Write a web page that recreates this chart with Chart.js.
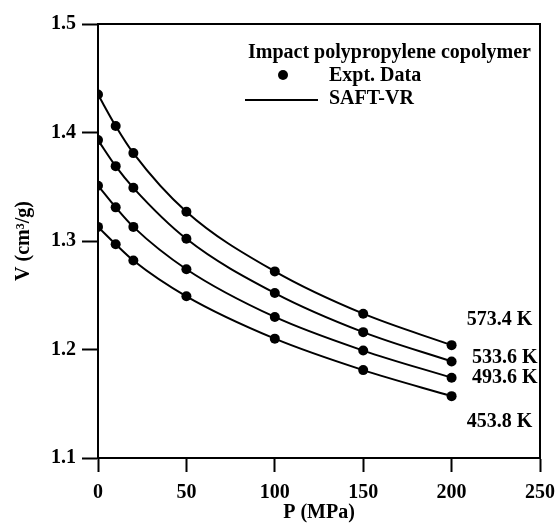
<!DOCTYPE html>
<html><head><meta charset="utf-8">
<script src="https://cdn.jsdelivr.net/npm/chart.js@4/dist/chart.umd.min.js"></script>
<style>html,body{margin:0;padding:0;background:#fff}#wrap{width:559px;height:530px}</style>
</head><body><div id="wrap"><canvas id="c" width="559" height="530"></canvas></div>
<script>
const pressure = [0, 10, 20, 50, 100, 150, 200];
const v573 = [1.435, 1.406, 1.381, 1.327, 1.272, 1.233, 1.204];
const v533 = [1.393, 1.369, 1.349, 1.302, 1.252, 1.216, 1.189];
const v493 = [1.351, 1.331, 1.313, 1.274, 1.230, 1.199, 1.174];
const v453 = [1.313, 1.297, 1.282, 1.249, 1.210, 1.181, 1.157];
const tempLabels = ['573.4 K', '533.6 K', '493.6 K', '453.8 K'];
const xTicks = [0, 50, 100, 150, 200, 250];
const yTicks = [1.1, 1.2, 1.3, 1.4, 1.5];
const legendTitle = 'Impact polypropylene copolymer';
const legendItems = ['Expt. Data', 'SAFT-VR'];

const FONT = "'Liberation Serif', 'Times New Roman', serif";
const series = [v573, v533, v493, v453];

const datasets = series.map(s => ({
  data: pressure.map((p, i) => ({x: p, y: s[i]})),
  borderColor: '#000', backgroundColor: '#000',
  borderWidth: 2, pointRadius: 5, pointHoverRadius: 5,
  pointBackgroundColor: '#000', pointBorderWidth: 0,
  showLine: true, cubicInterpolationMode: 'monotone', fill: false
}));

const deco = {
  id: 'deco',
  afterDraw(chart, args, opts) {
    const ctx = chart.ctx, a = chart.chartArea;
    const xs = chart.scales.x, ys = chart.scales.y;
    ctx.save();
    ctx.strokeStyle = '#000'; ctx.lineWidth = 2;
    ctx.beginPath();
    ctx.moveTo(a.left, a.top); ctx.lineTo(a.right, a.top); ctx.lineTo(a.right, a.bottom);
    ctx.stroke();
    ctx.fillStyle = '#000';
    ctx.font = 'bold 20px ' + FONT;
    ctx.textBaseline = 'middle';
    ctx.textAlign = 'left';
    // legend
    ctx.fillText(legendTitle, a.left + 150, a.top + 29);
    ctx.beginPath(); ctx.arc(a.left + 185, a.top + 51, 5, 0, Math.PI * 2); ctx.fill();
    ctx.fillText(legendItems[0], a.left + 231, a.top + 52);
    ctx.beginPath(); ctx.moveTo(a.left + 147, a.top + 76); ctx.lineTo(a.left + 220, a.top + 76); ctx.stroke();
    ctx.fillText(legendItems[1], a.left + 231, a.top + 75);
    // temperature labels
    opts.labelPos.forEach((p, i) => {
      ctx.fillText(tempLabels[i], xs.getPixelForValue(p[0]), ys.getPixelForValue(p[1]));
    });
    ctx.restore();
  }
};

new Chart(document.getElementById('c'), {
  type: 'scatter',
  data: {datasets},
  plugins: [deco],
  options: {
    responsive: false, animation: false, devicePixelRatio: 1,
    layout: {padding: {top: 24, right: 19, left: 0, bottom: 0}},
    plugins: {
      legend: {display: false}, tooltip: {enabled: false},
      deco: {labelPos: [[208.5, 1.2272], [211.5, 1.1922], [211.5, 1.1737], [208.5, 1.1332]]}
    },
    scales: {
      x: {
        type: 'linear', min: 0, max: 250,
        afterBuildTicks: s => { s.ticks = xTicks.map(v => ({value: v})); },
        afterFit: s => { s.height = 72; s.paddingLeft = 0; s.paddingRight = 0; },
        grid: {drawOnChartArea: false, tickLength: 14, tickWidth: 2, tickColor: '#000'},
        border: {color: '#000', width: 2},
        ticks: {color: '#000', font: {family: FONT, size: 20, weight: 'bold'}, padding: 9, maxRotation: 0},
        title: {display: true, text: 'P (MPa)', color: '#000', font: {family: FONT, size: 20, weight: 'bold'}, padding: {top: 0, bottom: 5}}
      },
      y: {
        type: 'linear', min: 1.1, max: 1.5,
        afterBuildTicks: s => { s.ticks = yTicks.map(v => ({value: v})); },
        afterFit: s => { s.width = 98; s.paddingTop = 0; s.paddingBottom = 0; },
        grid: {drawOnChartArea: false, tickLength: 16, tickWidth: 2, tickColor: '#000'},
        border: {color: '#000', width: 2},
        ticks: {color: '#000', font: {family: FONT, size: 20, weight: 'bold'}, padding: 6, callback: v => Number(v).toFixed(1)},
        title: {display: true, text: 'V (cm³/g)', color: '#000', font: {family: FONT, size: 20, weight: 'bold'}, padding: {top: 12, bottom: 0}}
      }
    }
  }
});
</script></body></html>
